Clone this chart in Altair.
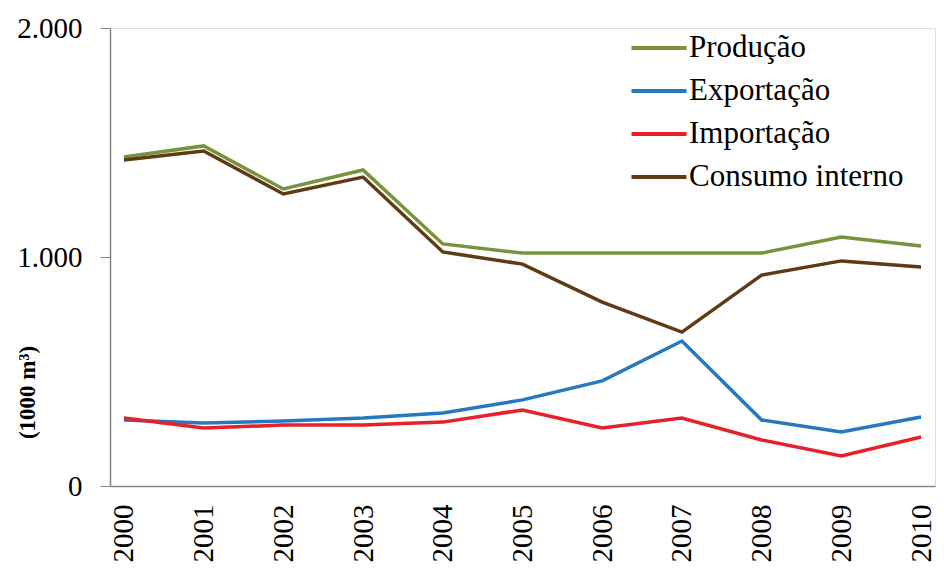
import altair as alt
import pandas as pd

anos = ["2000", "2001", "2002", "2003", "2004", "2005", "2006", "2007", "2008", "2009", "2010"]
producao = [1437, 1485, 1297, 1380, 1057, 1017, 1017, 1017, 1017, 1087, 1048]
exportacao = [288, 275, 284, 297, 319, 376, 459, 633, 288, 236, 301]
importacao = [297, 253, 266, 266, 279, 332, 253, 297, 201, 131, 214]
consumo = [1424, 1463, 1275, 1349, 1022, 969, 803, 672, 921, 983, 956]

series = ["Produção", "Exportação", "Importação", "Consumo interno"]
cores = ["#77933C", "#2479C0", "#E8202A", "#5E3B12"]

rows = []
for nome, vals in zip(series, [producao, exportacao, importacao, consumo]):
    for a, v in zip(anos, vals):
        rows.append({"Ano": a, "Valor": v, "Serie": nome})
df = pd.DataFrame(rows)

font = "Liberation Serif"

chart = alt.Chart(df).mark_line(strokeWidth=3.5).encode(
    x=alt.X("Ano:N", sort=anos,
            scale=alt.Scale(type="point", padding=0.175),
            axis=alt.Axis(title=None, labelAngle=-90, labelAlign="right", labelBaseline="middle",
                          labelFont=font, labelFontSize=29, labelColor="black",
                          ticks=False, labelPadding=18, domainColor="#868686", domainWidth=1.5)),
    y=alt.Y("Valor:Q", scale=alt.Scale(domain=[0, 2000], nice=False),
            axis=alt.Axis(values=[0, 1000, 2000], grid=False,
                          labelExpr="replace(format(datum.value, ','), ',', '.')",
                          labelFont=font, labelFontSize=29, labelColor="black",
                          tickSize=10, tickColor="#868686", domainColor="#868686", domainWidth=1.5,
                          labelPadding=18,
                          title="(1000 m³)", titleFont=font, titleFontSize=23, titleFontWeight="bold",
                          titleColor="black", titleAngle=-90, titleX=-83, titleY=364,
                          titleAlign="center", titleBaseline="middle")),
    color=alt.Color("Serie:N", sort=series,
                    scale=alt.Scale(domain=series, range=cores),
                    legend=alt.Legend(title=None, orient="none", legendX=533, legendY=4,
                                      symbolType="M-2,0L2,0", symbolSize=756, symbolStrokeWidth=4,
                                      symbolFillColor="transparent",
                                      labelFont=font, labelFontSize=31, labelColor="black",
                                      rowPadding=12, labelOffset=14, labelLimit=400))
).properties(
    width=825, height=458,
    padding={"left": 110, "top": 28, "right": 9, "bottom": 84},
    autosize=alt.AutoSizeParams(type="none")
).configure_view(stroke=None).configure(background="white")

chart.save("out.html", embed_options={"renderer": "svg", "actions": False})
